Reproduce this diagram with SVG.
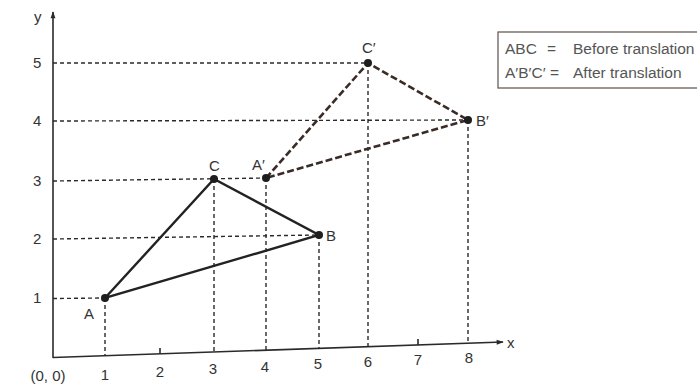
<svg xmlns="http://www.w3.org/2000/svg" width="697" height="390" viewBox="0 0 697 390">
<defs>
<marker id="arr" viewBox="0 0 10 10" refX="9" refY="5" markerWidth="9" markerHeight="7" markerUnits="userSpaceOnUse" orient="auto">
<path d="M0,1.5 L10,5 L0,8.5 Z" fill="#2a2a2a"/>
</marker>
<style>
.lbl{font-family:"Liberation Sans",Arial,sans-serif;font-size:15px;fill:#333}
.tick{text-anchor:middle}
.axis{stroke:#2a2a2a;stroke-width:1.6;fill:none}
.grid{stroke:#2a2a2a;stroke-width:1.4;stroke-dasharray:4 3;fill:none}
.solid{stroke:#222;stroke-width:2.4;fill:none;stroke-linecap:round}
.dash{stroke:#3a2b27;stroke-width:2.6;stroke-dasharray:7 3;fill:none}
.dot{fill:#1e1e1e}
.leg{font-family:"Liberation Sans",Arial,sans-serif;font-size:15.5px;fill:#555}
</style>
</defs>
<rect width="697" height="390" fill="#ffffff"/>
<g id="axes">
<line class="axis" x1="53" y1="358" x2="53" y2="12" marker-end="url(#arr)"/>
<line class="axis" x1="53" y1="357.5" x2="503" y2="342" marker-end="url(#arr)"/>
<line class="axis" x1="160" y1="353.8" x2="160" y2="348"/>
<line class="axis" x1="418" y1="344.9" x2="418" y2="339"/>
<text class="lbl" x="34" y="22">y</text>
<text class="lbl" x="507" y="348">x</text>
<text class="lbl" x="33" y="68">5</text>
<text class="lbl" x="33" y="126">4</text>
<text class="lbl" x="33" y="186">3</text>
<text class="lbl" x="33" y="244">2</text>
<text class="lbl" x="33" y="303">1</text>
<text class="lbl tick" x="48" y="381">(0, 0)</text>
<text class="lbl tick" x="105" y="380">1</text>
<text class="lbl tick" x="160" y="377">2</text>
<text class="lbl tick" x="213" y="374">3</text>
<text class="lbl tick" x="265" y="372">4</text>
<text class="lbl tick" x="318" y="369">5</text>
<text class="lbl tick" x="368" y="367">6</text>
<text class="lbl tick" x="418" y="365">7</text>
<text class="lbl tick" x="469" y="363">8</text>
</g>
<g id="gridlines">
<line class="grid" x1="53" y1="63" x2="368" y2="63"/>
<line class="grid" x1="53" y1="121" x2="468" y2="120"/>
<line class="grid" x1="53" y1="181" x2="266" y2="178"/>
<line class="grid" x1="53" y1="239" x2="319" y2="235"/>
<line class="grid" x1="53" y1="298.5" x2="105" y2="298"/>
<line class="grid" x1="105" y1="298" x2="105" y2="355.7"/>
<line class="grid" x1="214" y1="179" x2="214" y2="352"/>
<line class="grid" x1="266" y1="178" x2="266" y2="350.2"/>
<line class="grid" x1="319" y1="235" x2="319" y2="348.4"/>
<line class="grid" x1="368" y1="63" x2="368" y2="346.7"/>
<line class="grid" x1="468" y1="120" x2="468" y2="343.2"/>
</g>
<g id="connectors">
<path class="solid" d="M105,298 L214,179 L319,235 Z"/>
<path class="dash" d="M266,178 L368,63 L468,120 Z"/>
</g>
<g id="node-A"><circle class="dot" cx="105" cy="298" r="4"/><text class="lbl" x="84" y="319">A</text></g>
<g id="node-B"><circle class="dot" cx="319" cy="235" r="4"/><text class="lbl" x="326" y="241">B</text></g>
<g id="node-C"><circle class="dot" cx="214" cy="179" r="4"/><text class="lbl" x="209" y="171">C</text></g>
<g id="node-A2"><circle class="dot" cx="266" cy="178" r="4"/><text class="lbl" x="252" y="170">A′</text></g>
<g id="node-B2"><circle class="dot" cx="468" cy="120" r="4"/><text class="lbl" x="476" y="126">B′</text></g>
<g id="node-C2"><circle class="dot" cx="368" cy="63" r="4"/><text class="lbl" x="362" y="53">C′</text></g>
<g id="legend">
<rect x="498" y="32" width="210" height="56" fill="#ffffff" stroke="#6b5e58" stroke-width="1.3"/>
<text class="leg" x="505" y="54">ABC</text>
<text class="leg" x="547" y="54">=</text>
<text class="leg" x="573" y="54">Before translation</text>
<text class="leg" x="505" y="78">A′B′C′ =</text>
<text class="leg" x="573" y="78">After translation</text>
</g>
</svg>
